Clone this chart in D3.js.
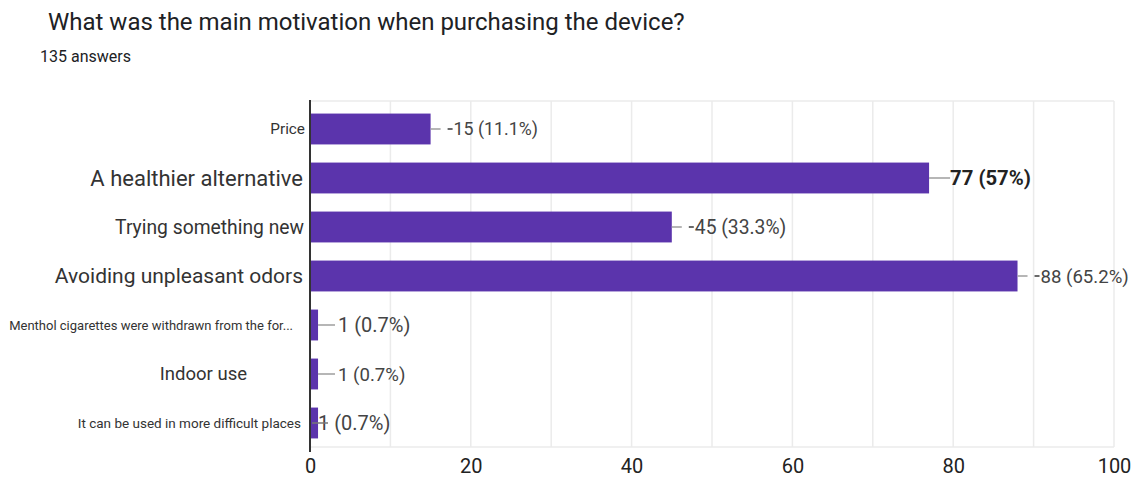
<!DOCTYPE html>
<html>
<head>
<meta charset="utf-8">
<script src="https://cdn.jsdelivr.net/npm/d3@7"></script>
<style>
  html, body { margin: 0; padding: 0; background: #fff; }
  svg { display: block; font-family: Roboto, "Noto Sans", Arial, sans-serif; }
</style>
</head>
<body>
<svg id="chart" width="1143" height="479"></svg>
<script>
// Survey answers
const categories = [
  "Price",
  "A healthier alternative",
  "Trying something new",
  "Avoiding unpleasant odors",
  "Menthol cigarettes were withdrawn from the for...",
  "Indoor use",
  "It can be used in more difficult places"
];
const counts = [15, 77, 45, 88, 1, 1, 1];
const percents = ["11.1%", "57%", "33.3%", "65.2%", "0.7%", "0.7%", "0.7%"];
const xTicks = [0, 20, 40, 60, 80, 100];
const totalAnswers = 135;

// Per-row label styling (font size, right edge of the category label)
const labelSize = [15.3, 22, 19.3, 21, 13, 18.5, 13.5];
const labelRight = [305, 303, 304, 303, 293, 247, 301];
const valueSize = [17.8, 20.3, 19.3, 18.6, 20, 18.6, 20];

const svg = d3.select("#chart");
const plot = { left: 310, right: 1114, top: 101, bottom: 447 };

const x = d3.scaleLinear().domain([0, 100]).range([plot.left, plot.right]);
const y = d3.scaleBand().domain(categories).range([104.5, 447.5]).paddingInner(0.37).paddingOuter(0.185);

// Title and subtitle
svg.append("text").attr("x", 48).attr("y", 30)
  .attr("font-size", 24).attr("fill", "#202124").text("What was the main motivation when purchasing the device?");
svg.append("text").attr("x", 40).attr("y", 62)
  .attr("font-size", 16).attr("fill", "#202124").text(`${totalAnswers} answers`);

// Vertical gridlines every 10
const grid = svg.append("g");
grid.selectAll("line.v").data(d3.range(10, 101, 10)).join("line")
  .attr("x1", d => x(d)).attr("x2", d => x(d))
  .attr("y1", plot.top).attr("y2", plot.bottom)
  .attr("stroke", "#ebebeb").attr("stroke-width", 1.5);
grid.append("line").attr("x1", plot.left).attr("x2", plot.right)
  .attr("y1", plot.top).attr("y2", plot.top).attr("stroke", "#ebebeb").attr("stroke-width", 1.5);
grid.append("line").attr("x1", plot.left).attr("x2", plot.right)
  .attr("y1", plot.bottom).attr("y2", plot.bottom).attr("stroke", "#ebebeb").attr("stroke-width", 1.5);

// Bars
svg.append("g").selectAll("rect").data(categories).join("rect")
  .attr("x", x(0))
  .attr("y", d => y(d))
  .attr("width", (d, i) => x(counts[i]) - x(0))
  .attr("height", y.bandwidth())
  .attr("fill", "#5b34ac");

// Category labels
svg.append("g").selectAll("text").data(categories).join("text")
  .attr("x", (d, i) => labelRight[i])
  .attr("y", d => y(d) + y.bandwidth() / 2)
  .attr("dy", "0.35em")
  .attr("text-anchor", "end")
  .attr("font-size", (d, i) => labelSize[i])
  .attr("fill", "#333")
  .text(d => d);

// Value annotations with leader lines
const ann = svg.append("g");
categories.forEach((c, i) => {
  const x0 = x(counts[i]);
  const cy = y(c) + y.bandwidth() / 2;
  const small = counts[i] < 5;
  const bold = i === 1;
  const crossing = small && i === 6;
  let lineStart = x0, lineEnd, textX;
  if (bold) { lineEnd = x0 + 21; textX = x0 + 21; }
  else if (crossing) { lineStart = x0 - 6; lineEnd = x0 + 10; textX = x0; }
  else if (small) { lineEnd = x0 + 17; textX = x0 + 20; }
  else { lineEnd = x0 + 10; textX = x0 + 23; }
  const lead = () => ann.append("line").attr("x1", lineStart).attr("x2", lineEnd).attr("y1", cy).attr("y2", cy)
    .attr("stroke", crossing ? "#777" : "#9e9e9e").attr("stroke-width", 1.5);
  if (!crossing) lead();
  if (!small && !bold) {
    ann.append("line").attr("x1", x0 + 17).attr("x2", x0 + 22).attr("y1", cy).attr("y2", cy)
      .attr("stroke", "#444").attr("stroke-width", 1.6);
  }
  ann.append("text").attr("x", textX).attr("y", cy).attr("dy", "0.35em")
    .attr("font-size", valueSize[i])
    .attr("font-weight", bold ? 700 : 400)
    .attr("fill", bold ? "#222" : "#444")
    .text(`${counts[i]} (${percents[i]})`);
  if (crossing) lead();
});

// Axis line
svg.append("line").attr("x1", plot.left).attr("x2", plot.left)
  .attr("y1", 100).attr("y2", 452).attr("stroke", "#333").attr("stroke-width", 2);

// X axis tick labels
const xAxis = d3.axisBottom(x).tickValues(xTicks).tickSize(0).tickPadding(0);
const ax = svg.append("g").attr("transform", `translate(0,${plot.bottom + 12})`).call(xAxis);
ax.select(".domain").remove();
ax.selectAll("text").attr("font-size", 20).attr("fill", "#222").attr("font-family", "Roboto, sans-serif");
</script>
</body>
</html>
